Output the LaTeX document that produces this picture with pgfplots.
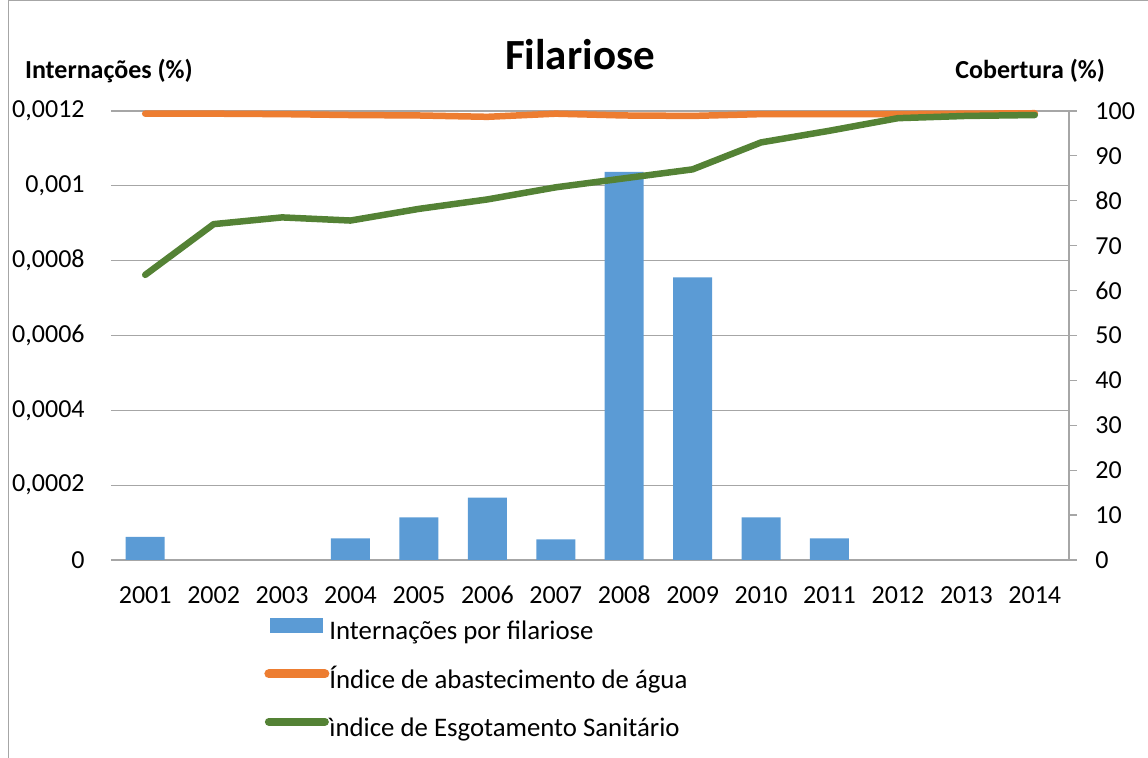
\documentclass[border=0pt]{standalone}
\usepackage{pgfplots}
\pgfplotsset{compat=1.18}
\usepackage{fontspec}
\setmainfont{Carlito}
\definecolor{barblue}{RGB}{91,155,213}
\definecolor{lineorange}{RGB}{237,125,49}
\definecolor{linegreen}{RGB}{84,130,53}
\definecolor{gridgray}{RGB}{166,166,166}
\begin{document}
\begin{tikzpicture}[x=1pt,y=1pt]
\useasboundingbox (0,0) rectangle (574,379);
\draw[gridgray, line width=0.6pt] (4.25,0) -- (4.25,378.6) -- (574,378.6);
\node[anchor=base, font=\fontsize{21.5}{24}\selectfont\bfseries] at (290,344) {Filariose};
\node[anchor=base west, font=\fontsize{13}{15}\selectfont\bfseries] at (9,339.5) {Internações (\%)};
\node[anchor=base east, font=\fontsize{13}{15}\selectfont\bfseries] at (556,339.5) {Cobertura (\%)};
\begin{axis}[
  at={(55.5pt,99pt)}, anchor=south west,
  scale only axis, width=479pt, height=224.5pt,
  xmin=2000.5, xmax=2014.5,
  ymin=0, ymax=0.0012,
  xtick={2001,2002,2003,2004,2005,2006,2007,2008,2009,2010,2011,2012,2013,2014},
  xticklabels={2001,2002,2003,2004,2005,2006,2007,2008,2009,2010,2011,2012,2013,2014},
  ytick={0,0.0002,0.0004,0.0006,0.0008,0.001,0.0012},
  yticklabels={0,{0,0002},{0,0004},{0,0006},{0,0008},{0,001},{0,0012}},
  scaled y ticks=false,
  /pgf/number format/assume math mode=true,
  axis line style={draw=none},
  major tick length=0pt,
  ymajorgrids, grid style={gridgray, line width=0.6pt},
  ticklabel style={font=\fontsize{13}{15}\selectfont, inner sep=0pt},
  yticklabel style={anchor=east, xshift=-13pt},
  xticklabel style={anchor=center, yshift=-17.5pt},
]
\addplot[ybar, bar width=19.5pt, bar shift=0pt, fill=barblue, draw=none] coordinates {
(2001,0.0000621) (2004,0.0000578) (2005,0.000114) (2006,0.000167) (2007,0.0000552)
(2008,0.001037) (2009,0.000755) (2010,0.000114) (2011,0.0000578)
};
\end{axis}
\begin{axis}[
  at={(55.5pt,99pt)}, anchor=south west,
  scale only axis, width=479pt, height=224.5pt,
  xmin=2000.5, xmax=2014.5,
  ymin=0, ymax=100,
  axis x line=none,
  axis y line*=right,
  axis line style={gridgray, line width=0.6pt},
  ytick={0,10,20,30,40,50,60,70,80,90,100},
  yticklabels={0,10,20,30,40,50,60,70,80,90,100},
  /pgf/number format/assume math mode=true,
  tick style={gridgray, line width=0.6pt},
  tick align=outside, major tick length=4pt,
  ticklabel style={font=\fontsize{13}{15}\selectfont, inner sep=0pt},
  yticklabel style={anchor=west, xshift=9pt},
  clip=false,
  legend style={at={(0.1597,-0.128)}, anchor=north west, draw=none, fill=none,
    inner sep=0pt, row sep=11.8pt, font=\fontsize{13.4}{15}\selectfont,
    nodes={inner sep=0pt, text height=8.7pt, text depth=3pt}},
  legend cell align=left,
]
\addlegendimage{legend image code/.code={\fill[barblue] (2.5pt,0.6pt) rectangle (28.5pt,7.9pt);}}
\addlegendentry{Internações por filariose}
\addplot[lineorange, line width=3.25pt, line join=round, line cap=round,
  legend image code/.code={\draw[lineorange, line width=4.5pt, line cap=round] (1.5pt,4.3pt) -- (29.5pt,4.3pt);}] coordinates {
(2001,99.4) (2002,99.4) (2003,99.3) (2004,99.1) (2005,99.0) (2006,98.7) (2007,99.4)
(2008,99.0) (2009,98.9) (2010,99.3) (2011,99.3) (2012,99.3) (2013,99.4) (2014,99.5)
};
\addlegendentry{Índice de abastecimento de água}
\addplot[linegreen, line width=3.25pt, line join=round, line cap=round,
  legend image code/.code={\draw[linegreen, line width=4pt, line cap=round] (1.5pt,4.3pt) -- (29.5pt,4.3pt);}] coordinates {
(2001,63.5) (2002,74.8) (2003,76.3) (2004,75.6) (2005,78.2) (2006,80.3) (2007,83.0)
(2008,85.0) (2009,87.0) (2010,93.0) (2011,95.6) (2012,98.4) (2013,98.9) (2014,99.1)
};
\addlegendentry{ìndice de Esgotamento Sanitário}
\end{axis}
\end{tikzpicture}
\end{document}
